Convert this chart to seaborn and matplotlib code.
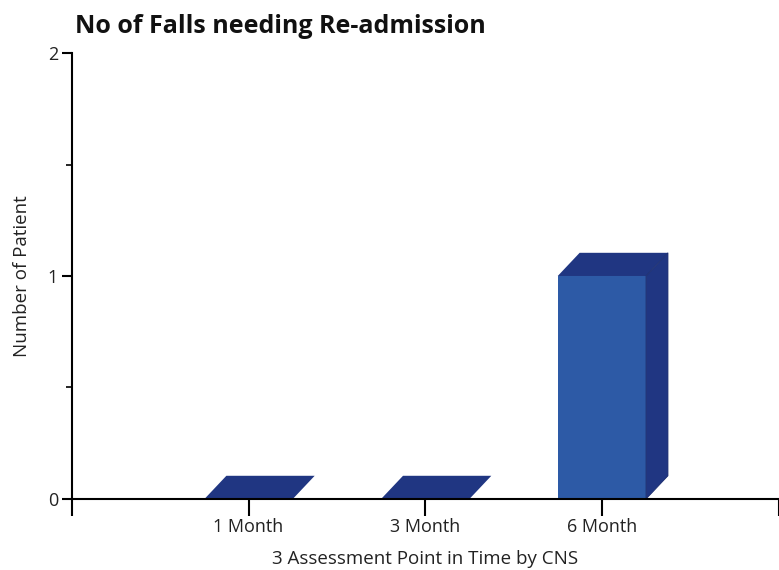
import matplotlib
matplotlib.use("Agg")
import matplotlib.pyplot as plt
from matplotlib.patches import Polygon
import seaborn as sns
import pandas as pd

# Data
categories = ["1 Month", "3 Month", "6 Month"]
patients = [0, 0, 1]
y_ticks = [0, 1, 2]
y_minor_ticks = [0.5, 1.5]

title = "No of Falls needing Re-admission"
x_title = "3 Assessment Point in Time by CNS"
y_title = "Number of Patient"

front_color = "#2D5AA6"
dark_color = "#203682"

sns.set_theme(style="white")
plt.rcParams["font.family"] = ["Open Sans", "DejaVu Sans"]

df = pd.DataFrame({"period": categories, "patients": patients})

fig = plt.figure(figsize=(7.79, 5.7), dpi=100)
ax = fig.add_axes([0.0924, 0.1246, 0.907, 0.7824])

sns.barplot(data=df, x="period", y="patients", color=front_color,
            saturation=1, width=0.5, ax=ax, zorder=3)

# 3-D extrusion (top and side faces) built from each bar's geometry
dx, dy = 0.124, 0.104
for bar in ax.patches:
    bar.set_edgecolor("none")
    x0 = bar.get_x()
    w = bar.get_width()
    h = bar.get_height()
    x1 = x0 + w
    top = Polygon([(x0, h), (x1, h), (x1 + dx, h + dy), (x0 + dx, h + dy)],
                  closed=True, facecolor=dark_color, edgecolor="none",
                  zorder=3, clip_on=False)
    ax.add_patch(top)
    if h > 0:
        side = Polygon([(x1, 0), (x1 + dx, dy), (x1 + dx, h + dy), (x1, h)],
                       closed=True, facecolor=dark_color, edgecolor="#1a2c6e",
                       linewidth=0.6, zorder=3, clip_on=False)
        ax.add_patch(side)

ax.set_xlim(-1, 3)
ax.set_ylim(0, 2)

ax.set_xticks([-1, 0, 1, 2, 3])
ax.set_xticklabels(["", categories[0], categories[1], categories[2], ""])
ax.set_yticks(y_ticks)
ax.set_yticklabels([str(t) for t in y_ticks])
ax.set_yticks(y_minor_ticks, minor=True)

for side in ["top", "right"]:
    ax.spines[side].set_visible(False)
for side in ["left", "bottom"]:
    ax.spines[side].set_color("black")
    ax.spines[side].set_linewidth(1.5)
ax.spines["bottom"].set_zorder(5)

ax.tick_params(axis="x", which="major", direction="out", length=12, width=1.5,
               color="black", labelsize=13, pad=2, bottom=True,
               labelcolor="#222222")
ax.tick_params(axis="y", which="major", direction="out", length=7, width=1.5,
               color="black", labelsize=13, pad=3, left=True,
               labelcolor="#222222")
ax.tick_params(axis="y", which="minor", direction="out", length=4, width=1.2,
               color="black", left=True)

ax.set_xlabel(x_title, fontsize=13.5, color="#222222", labelpad=10)
ax.set_ylabel(y_title, fontsize=13.5, color="#222222", labelpad=12)
ax.grid(False)

fig.text(0.096, 0.942, title, fontsize=18, fontweight="bold",
         color="#111111", ha="left", va="baseline")

fig.savefig("out.png", dpi=100)
